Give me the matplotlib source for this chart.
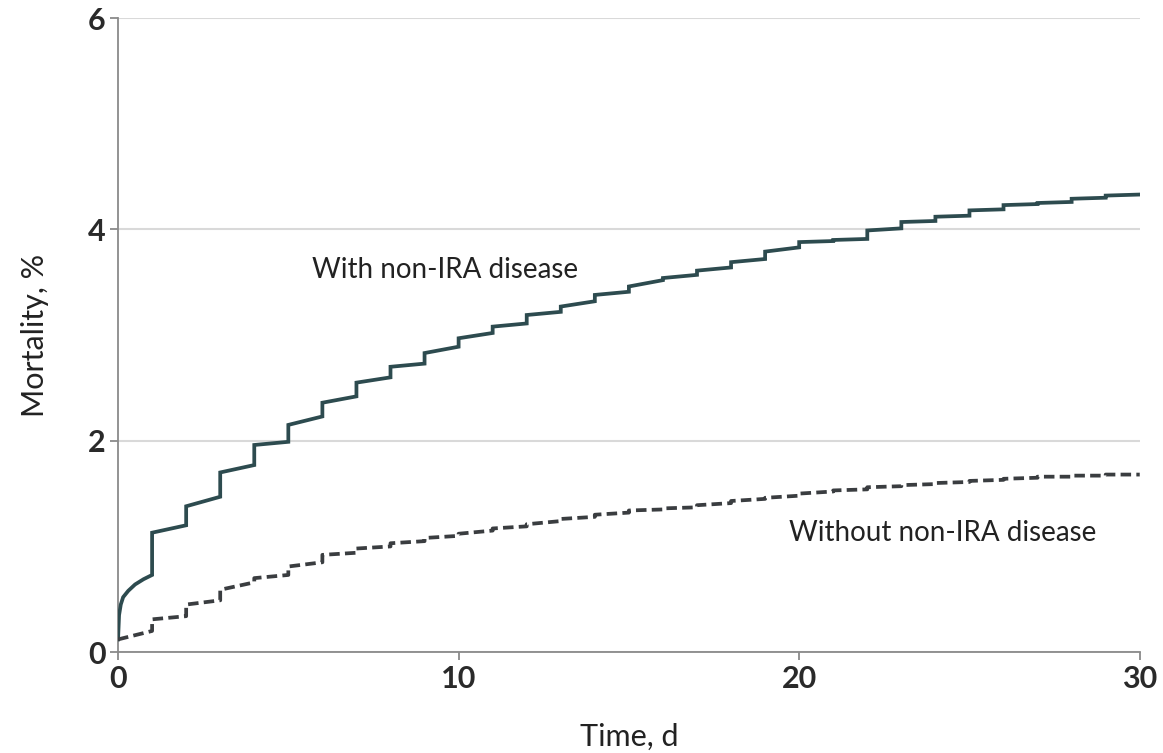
import matplotlib.pyplot as plt
import numpy as np

# cumulative mortality, %; steps at each day, slow rise within a day
days = np.arange(0, 30)

# with non-IRA disease: value just after the jump at day d, and just before day d+1
with_start = [0.12, 1.13, 1.38, 1.70, 1.96, 2.15, 2.36, 2.55, 2.70, 2.83,
              2.97, 3.08, 3.19, 3.27, 3.38, 3.46, 3.54, 3.61, 3.69, 3.79,
              3.88, 3.90, 3.99, 4.07, 4.12, 4.18, 4.23, 4.25, 4.29, 4.32]
with_end = [0.73, 1.20, 1.47, 1.77, 1.99, 2.23, 2.42, 2.60, 2.73, 2.89,
            3.02, 3.11, 3.22, 3.32, 3.41, 3.52, 3.57, 3.64, 3.72, 3.83,
            3.89, 3.91, 4.01, 4.08, 4.13, 4.19, 4.24, 4.26, 4.30, 4.33]
# first day rises steeply in the first hours
early_t = [0.0, 0.03, 0.08, 0.15, 0.3, 0.5, 0.75]
early_with = [0.12, 0.35, 0.45, 0.52, 0.58, 0.64, 0.69]

without_start = [0.12, 0.31, 0.45, 0.59, 0.70, 0.81, 0.92, 0.98, 1.03, 1.08,
                 1.12, 1.17, 1.21, 1.26, 1.30, 1.34, 1.36, 1.39, 1.43, 1.46,
                 1.50, 1.53, 1.56, 1.58, 1.60, 1.62, 1.64, 1.66, 1.67, 1.68]
without_end = [0.20, 0.34, 0.49, 0.66, 0.73, 0.85, 0.94, 1.00, 1.05, 1.10,
               1.15, 1.19, 1.24, 1.28, 1.32, 1.35, 1.37, 1.41, 1.45, 1.48,
               1.52, 1.54, 1.57, 1.59, 1.61, 1.63, 1.65, 1.66, 1.67, 1.68]


def step_path(start, end, t0=None, v0=None):
    xs, ys = [], []
    for i, d in enumerate(days):
        if i == 0 and t0 is not None:
            xs += list(t0)
            ys += list(v0)
        else:
            xs.append(d)
            ys.append(start[i])
        xs.append(d + 1)
        ys.append(end[i])
    return xs, ys


plt.rcParams["font.family"] = ["Lato", "DejaVu Sans"]

fig = plt.figure(figsize=(11.63, 7.53), dpi=100)
ax = fig.add_axes([0.1015, 0.134, 0.8785, 0.842])

x1, y1 = step_path(with_start, with_end, early_t, early_with)
x2, y2 = step_path(without_start, without_end)

ax.plot(x1, y1, color="#2d4b4f", linewidth=2.7, solid_joinstyle="miter", zorder=3)
ax.plot(x2, y2, color="#3a3d40", linewidth=2.7, linestyle=(0, (2.8, 1.4)), zorder=3)

ax.text(5.7, 3.62, "With non-IRA disease", fontsize=20, color="#222222", va="center")
ax.text(19.7, 1.13, "Without non-IRA disease", fontsize=20, color="#222222", va="center")

ax.set_xlim(0, 30)
ax.set_ylim(0, 6)
ax.set_xticks([0, 10, 20, 30])
ax.set_yticks([0, 2, 4, 6])
ax.yaxis.grid(True, color="#d9d9d9", linewidth=1.5)
ax.set_axisbelow(True)

for s in ["top", "right"]:
    ax.spines[s].set_visible(False)
for s in ["left", "bottom"]:
    ax.spines[s].set_color("#8a8a8a")
    ax.spines[s].set_linewidth(1.3)

ax.tick_params(axis="both", colors="#8a8a8a", length=6, width=1.3,
               labelsize=22, labelcolor="#2a2a2a", pad=3)
for lbl in ax.get_xticklabels() + ax.get_yticklabels():
    lbl.set_fontweight("bold")

ax.set_xlabel("Time, d", fontsize=22, color="#222222", labelpad=22)
ax.set_ylabel("Mortality, %", fontsize=22, color="#222222", labelpad=28)

fig.savefig("out.png", dpi=100, facecolor="white")
